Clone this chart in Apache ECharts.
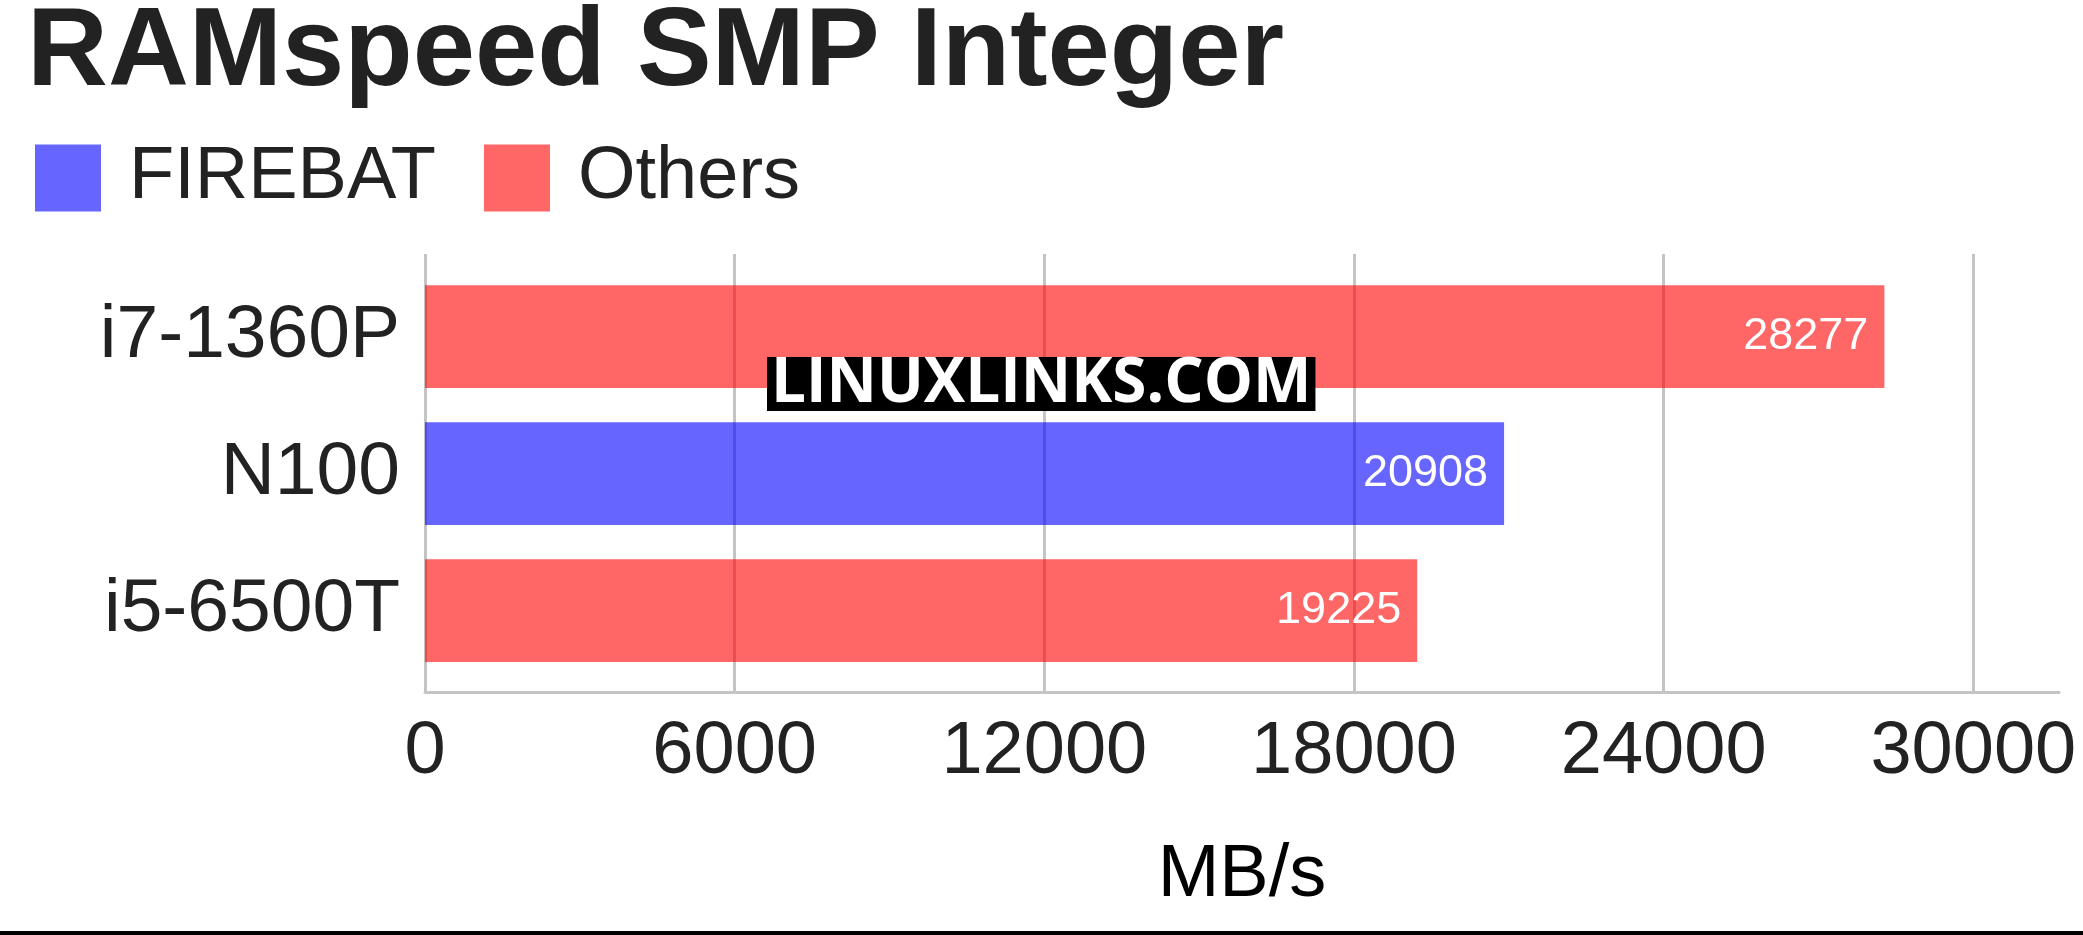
<!DOCTYPE html>
<html>
<head>
<meta charset="utf-8">
<script src="https://cdn.jsdelivr.net/npm/echarts@6/dist/echarts.min.js"></script>
<style>
html,body{margin:0;padding:0;background:#fff;}
#chart{width:2083px;height:935px;}
</style>
</head>
<body>
<div id="chart"></div>
<script>
const categories = ['i7-1360P', 'N100', 'i5-6500T'];
const firebatValues = [null, 20908, null];
const othersValues = [28277, null, 19225];
const xTicks = [0, 6000, 12000, 18000, 24000, 30000];
const titleText = 'RAMspeed SMP Integer';
const axisName = 'MB/s';
const watermark = 'LINUXLINKS.COM';

const FONT = 'Liberation Sans, Arial, Helvetica, sans-serif';
const TEXT = '#222222';
const GRID_COLOR = '#c4c4c4';
const X_MAX = 31660;

const chart = echarts.init(document.getElementById('chart'), null, {renderer: 'canvas'});
const labelOpt = {
  show: true, position: 'insideRight', distance: 16,
  color: '#ffffff', fontSize: 45, fontFamily: FONT,
  formatter: p => p.value == null ? '' : String(p.value)
};
chart.setOption({
  backgroundColor: '#ffffff',
  animation: false,
  title: {
    text: titleText, left: 22, top: -7, padding: 5,
    textStyle: {fontFamily: FONT, fontWeight: 'bold', fontSize: 112, color: TEXT}
  },
  legend: {
    left: 35, top: 141, padding: 0, itemWidth: 66, itemHeight: 67, itemGap: 48,
    icon: 'rect',
    data: ['FIREBAT', 'Others'],
    textStyle: {fontFamily: FONT, fontSize: 74, color: TEXT, padding: [0, 0, 0, 23]}
  },
  grid: [
    {left: 425, right: 24, top: 254, bottom: 243, containLabel: false},
    {left: 425, right: 24, top: 268, bottom: 256, containLabel: false}
  ],
  xAxis: [
    {
      type: 'value', gridIndex: 0, min: 0, max: X_MAX, interval: xTicks[1] - xTicks[0],
      axisLine: {show: true, lineStyle: {color: GRID_COLOR, width: 3}},
      axisTick: {show: false},
      splitLine: {show: true, showMaxLine: false, lineStyle: {color: GRID_COLOR, width: 3}},
      axisLabel: {
        margin: 24, fontFamily: FONT, fontSize: 74, color: TEXT,
        showMaxLabel: false,
        formatter: v => xTicks.indexOf(v) >= 0 ? String(v) : ''
      },
      name: axisName, nameLocation: 'middle', nameGap: 147,
      nameTextStyle: {fontFamily: FONT, fontSize: 74, color: '#000000'}
    },
    {
      type: 'value', gridIndex: 1, min: 0, max: X_MAX, show: false,
      splitLine: {show: false}
    }
  ],
  yAxis: [
    {type: 'value', gridIndex: 0, show: false, splitLine: {show: false}},
    {
      type: 'category', gridIndex: 1, data: categories, inverse: true,
      axisLine: {show: false}, axisTick: {show: false},
      axisLabel: {margin: 25, fontFamily: FONT, fontSize: 75, color: TEXT}
    }
  ],
  series: [
    {
      name: 'FIREBAT', type: 'bar', xAxisIndex: 1, yAxisIndex: 1, stack: 'all',
      barWidth: '75%', data: firebatValues,
      itemStyle: {color: 'rgba(0,0,255,0.6)'}, label: labelOpt
    },
    {
      name: 'Others', type: 'bar', xAxisIndex: 1, yAxisIndex: 1, stack: 'all',
      barWidth: '75%', data: othersValues,
      itemStyle: {color: 'rgba(255,0,0,0.6)'}, label: labelOpt
    }
  ],
  graphic: [
    {
      type: 'text', left: 767, top: 353, z: 100,
      style: {
        text: watermark, font: 'bold 62px "Open Sans", sans-serif', fill: '#ffffff',
        backgroundColor: '#000000', padding: [0, 4, 0, 4], lineHeight: 54
      }
    },
    {
      type: 'rect', left: 0, top: 931, z: 100,
      shape: {width: 2083, height: 4}, style: {fill: '#000000'}
    }
  ]
});
</script>
</body>
</html>
